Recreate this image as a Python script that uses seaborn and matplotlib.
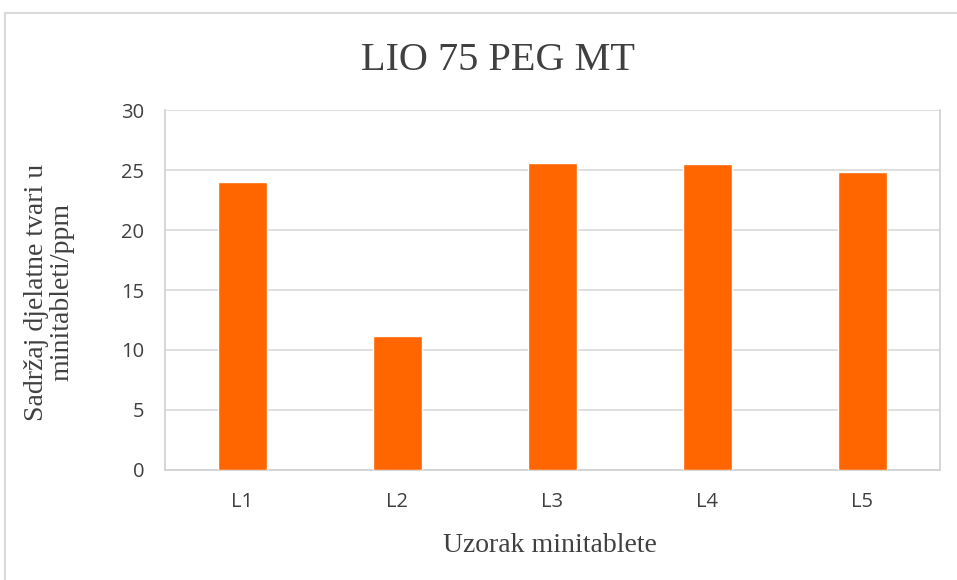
import matplotlib
matplotlib.use("Agg")
import matplotlib.pyplot as plt
import matplotlib.patches as patches
import pandas as pd
import seaborn as sns

# podaci ocitani s grafa
uzorci = ["L1", "L2", "L3", "L4", "L5"]
sadrzaj = [24.0, 11.15, 25.6, 25.5, 24.8]
y_ticks = [0, 5, 10, 15, 20, 25, 30]

df = pd.DataFrame({"uzorak": uzorci, "sadrzaj": sadrzaj})

sns.set_style("white")
serif = ["Liberation Serif", "DejaVu Serif"]
sans = ["Open Sans", "DejaVu Sans"]

fig = plt.figure(figsize=(9.57, 5.8), dpi=100)
ax = fig.add_axes([0.1724, 0.1897, 0.8098, 0.6206])

sns.barplot(data=df, x="uzorak", y="sadrzaj", color="#FF6600", saturation=1,
            width=0.32, ax=ax, zorder=3)

ax.set_ylim(0, 30)
ax.set_yticks(y_ticks)
ax.yaxis.grid(True, color="#D9D9D9", linewidth=1.2, zorder=0)
ax.set_axisbelow(True)
for side in ["left", "right", "bottom"]:
    ax.spines[side].set_visible(True)
    ax.spines[side].set_color("#D0D0D0")
    ax.spines[side].set_linewidth(1.2)
ax.spines["top"].set_visible(False)
ax.tick_params(axis="both", length=0, labelsize=14.5, colors="#404040")
ax.tick_params(axis="x", pad=16)
ax.tick_params(axis="y", pad=15)
for lbl in ax.get_xticklabels() + ax.get_yticklabels():
    lbl.set_family(sans)

ax.set_xlabel("")
ax.set_ylabel("")
fig.text(0.575, 1 - 545 / 580, "Uzorak minitablete", family=serif, fontsize=20,
         color="#404040", ha="center", va="center")
fig.text(49 / 957, 1 - 292 / 580, "Sadržaj djelatne tvari u\nminitableti/ppm", family=serif,
         fontsize=20, color="#404040", ha="center", va="center", rotation=90,
         linespacing=1.05, multialignment="center")
fig.text(0.52, 1 - 60 / 580, "LIO 75 PEG MT", family=serif, fontsize=29, color="#404040",
         ha="center", va="center")

# okvir grafikona
okvir = patches.Rectangle((5 / 957, -0.1), 1.2, 1 - 13 / 580 + 0.1, transform=fig.transFigure,
                          fill=False, edgecolor="#D9D9D9", linewidth=1.5)
fig.patches.append(okvir)

fig.savefig("out.png", dpi=100)
